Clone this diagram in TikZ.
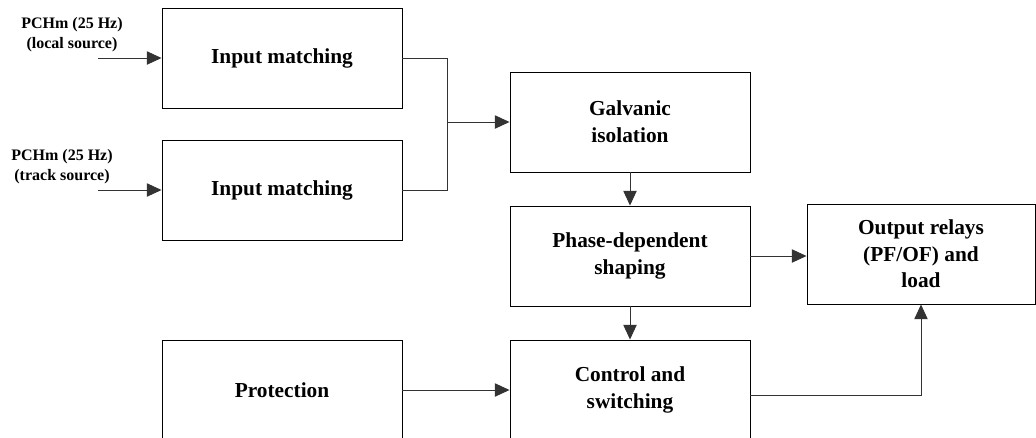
\documentclass[tikz,border=0pt]{standalone}
\usepackage{fontspec}
\setmainfont{Liberation Serif}
\usetikzlibrary{arrows.meta}

\tikzset{
    block/.style={draw, line width=0.7pt, minimum width=180pt, minimum height=75pt,
        align=center, font=\fontsize{16}{20}\selectfont\bfseries},
    srclabel/.style={align=center, font=\fontsize{12}{15}\selectfont\bfseries},
    link/.style={line width=0.7pt, draw=black!80},
    arrow/.style={link, -{Triangle[length=11pt, width=10pt]}}
}

\begin{document}
\begin{tikzpicture}[x=0.75pt, y=-0.75pt]

    % Frame
    \useasboundingbox (0,0) rectangle (1036,437);
    \clip (0,0) rectangle (1036,437);

    % Input stage
    \node[block] (match1) at (282,58) {Input matching};
    \node[block] (match2) at (282,190) {Input matching};
    \node[srclabel] (src1) at (72,35) {PCHm (25 Hz)\\(local source)};
    \node[srclabel] (src2) at (62,167) {PCHm (25 Hz)\\(track source)};
    \coordinate (in1) at (98,58);
    \coordinate (in2) at (98,190);
    \draw[arrow] (in1) -- (match1);
    \draw[arrow] (in2) -- (match2);

    % Processing chain
    \node[block] (galv) at (630,122) {Galvanic\\isolation};
    \node[block] (phase) at (630,256) {Phase-dependent\\shaping};
    \node[block] (ctrl) at (630,390) {Control and\\switching};
    \node[block] (prot) at (282,390) {Protection};
    \node[block, minimum width=171pt] (out) at (921,254) {Output relays\\(PF/OF) and\\load};

    % Merge of both inputs
    \coordinate (merge) at (447,122);
    \draw[link] (match1.east) -| (merge);
    \draw[link] (match2.east) -| (merge);
    \draw[arrow] (merge) -- (galv);

    % Signal flow
    \draw[arrow] (galv) -- (phase);
    \draw[arrow] (phase) -- (ctrl);
    \draw[arrow] (prot) -- (ctrl);
    \draw[arrow] (phase.east) -- (phase.east -| out.west);
    \draw[arrow] ([yshift=-4pt]ctrl.east) -| (out.south);

\end{tikzpicture}
\end{document}
